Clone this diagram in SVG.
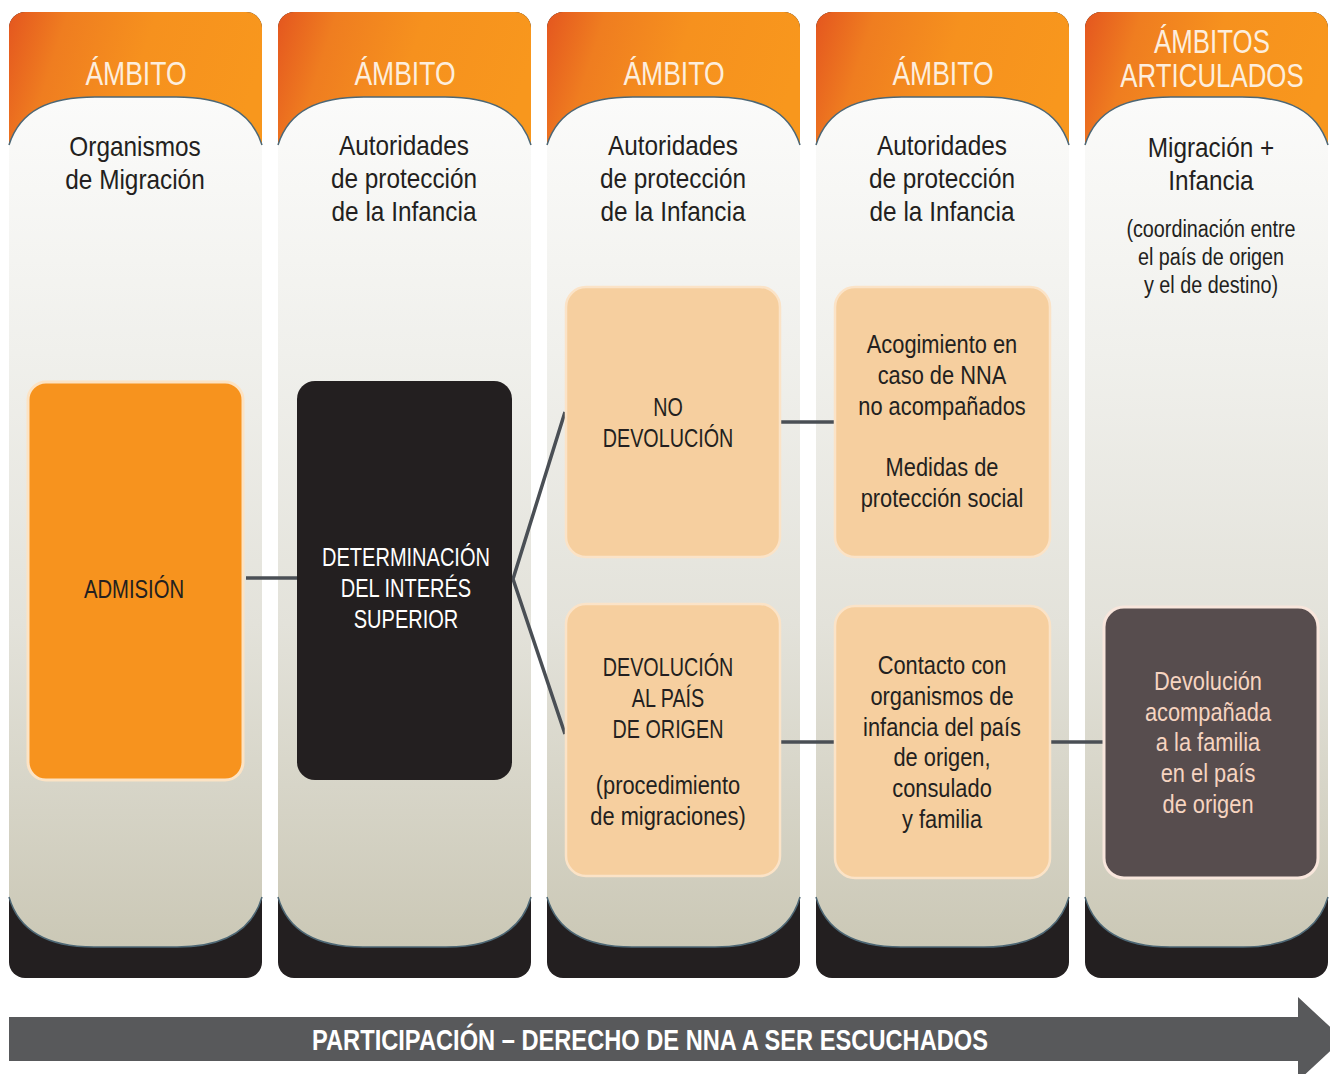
<svg xmlns="http://www.w3.org/2000/svg" width="1330" height="1074" viewBox="0 0 1330 1074">
<defs>
<linearGradient id="org" x1="0" y1="0" x2="1" y2="0.25">
<stop offset="0" stop-color="#e4561f"/>
<stop offset="0.22" stop-color="#ef7d20"/>
<stop offset="0.55" stop-color="#f6911e"/>
<stop offset="1" stop-color="#f8971d"/>
</linearGradient>
<linearGradient id="body" x1="0" y1="0" x2="0" y2="1">
<stop offset="0" stop-color="#fbfbfa"/>
<stop offset="0.3" stop-color="#f0f0ec"/>
<stop offset="0.62" stop-color="#e3e2da"/>
<stop offset="1" stop-color="#cbc8b6"/>
</linearGradient>
<style>
.outer{fill:#231f20}
.head{fill:url(#org)}
.body{fill:url(#body)}
.arc{fill:none;stroke:#4d6775;stroke-width:1.5}
.t{font-family:"Liberation Sans",Arial,sans-serif;text-anchor:middle}
.hd{font-size:34px;fill:#fdeedd}
.sub{font-size:28px;fill:#231f20}
.small{font-size:23px;fill:#231f20}
.bx{font-size:26px;fill:#231f20}
.peach{fill:#f6cf9f;stroke:#fbe3c7;stroke-width:2.5}
.conn{stroke:#4a4f55;stroke-width:3.5;fill:none}
</style>
</defs>
<rect width="1330" height="1074" fill="#ffffff"/>

<g id="columns">
<g id="col1">
<rect class="outer" x="9" y="12" width="253" height="966" rx="16"/>
<rect class="head" x="9" y="12" width="253" height="200" rx="16"/>
<path class="body" d="M9,145 C20,110 50,97 95,97 L176,97 C221,97 251,110 262,145 L262,897 C252,932 222,947 177,947 L94,947 C49,947 19,932 9,897 Z"/>
<path class="arc" d="M9,145 C20,110 50,97 95,97 L176,97 C221,97 251,110 262,145"/>
<path class="arc" d="M262,897 C252,932 222,947 177,947 L94,947 C49,947 19,932 9,897"/>
<text class="t hd" transform="translate(136,85) scale(0.78,1)">ÁMBITO</text>
<text class="t sub" transform="translate(135,156) scale(0.87,1)"><tspan x="0" y="0">Organismos</tspan><tspan x="0" y="33">de Migración</tspan></text>
</g>
<g id="col2">
<rect class="outer" x="278" y="12" width="253" height="966" rx="16"/>
<rect class="head" x="278" y="12" width="253" height="200" rx="16"/>
<path class="body" d="M278,145 C289,110 319,97 364,97 L445,97 C490,97 520,110 531,145 L531,897 C521,932 491,947 446,947 L363,947 C318,947 288,932 278,897 Z"/>
<path class="arc" d="M278,145 C289,110 319,97 364,97 L445,97 C490,97 520,110 531,145"/>
<path class="arc" d="M531,897 C521,932 491,947 446,947 L363,947 C318,947 288,932 278,897"/>
<text class="t hd" transform="translate(405,85) scale(0.78,1)">ÁMBITO</text>
<text class="t sub" transform="translate(404,155) scale(0.87,1)"><tspan x="0" y="0">Autoridades</tspan><tspan x="0" y="33">de protección</tspan><tspan x="0" y="66">de la Infancia</tspan></text>
</g>
<g id="col3">
<rect class="outer" x="547" y="12" width="253" height="966" rx="16"/>
<rect class="head" x="547" y="12" width="253" height="200" rx="16"/>
<path class="body" d="M547,145 C558,110 588,97 633,97 L714,97 C759,97 789,110 800,145 L800,897 C790,932 760,947 715,947 L632,947 C587,947 557,932 547,897 Z"/>
<path class="arc" d="M547,145 C558,110 588,97 633,97 L714,97 C759,97 789,110 800,145"/>
<path class="arc" d="M800,897 C790,932 760,947 715,947 L632,947 C587,947 557,932 547,897"/>
<text class="t hd" transform="translate(674,85) scale(0.78,1)">ÁMBITO</text>
<text class="t sub" transform="translate(673,155) scale(0.87,1)"><tspan x="0" y="0">Autoridades</tspan><tspan x="0" y="33">de protección</tspan><tspan x="0" y="66">de la Infancia</tspan></text>
</g>
<g id="col4">
<rect class="outer" x="816" y="12" width="253" height="966" rx="16"/>
<rect class="head" x="816" y="12" width="253" height="200" rx="16"/>
<path class="body" d="M816,145 C827,110 857,97 902,97 L983,97 C1028,97 1058,110 1069,145 L1069,897 C1059,932 1029,947 984,947 L901,947 C856,947 826,932 816,897 Z"/>
<path class="arc" d="M816,145 C827,110 857,97 902,97 L983,97 C1028,97 1058,110 1069,145"/>
<path class="arc" d="M1069,897 C1059,932 1029,947 984,947 L901,947 C856,947 826,932 816,897"/>
<text class="t hd" transform="translate(943,85) scale(0.78,1)">ÁMBITO</text>
<text class="t sub" transform="translate(942,155) scale(0.87,1)"><tspan x="0" y="0">Autoridades</tspan><tspan x="0" y="33">de protección</tspan><tspan x="0" y="66">de la Infancia</tspan></text>
</g>
<g id="col5">
<rect class="outer" x="1085" y="12" width="243" height="966" rx="16"/>
<rect class="head" x="1085" y="12" width="243" height="200" rx="16"/>
<path class="body" d="M1085,145 C1096,110 1126,97 1171,97 L1242,97 C1287,97 1317,110 1328,145 L1328,897 C1318,932 1288,947 1243,947 L1170,947 C1125,947 1095,932 1085,897 Z"/>
<path class="arc" d="M1085,145 C1096,110 1126,97 1171,97 L1242,97 C1287,97 1317,110 1328,145"/>
<path class="arc" d="M1328,897 C1318,932 1288,947 1243,947 L1170,947 C1125,947 1095,932 1085,897"/>
<text class="t hd" transform="translate(1212,53) scale(0.76,1)"><tspan x="0" y="0">ÁMBITOS</tspan><tspan x="0" y="34">ARTICULADOS</tspan></text>
<text class="t sub" transform="translate(1211,157) scale(0.87,1)"><tspan x="0" y="0">Migración +</tspan><tspan x="0" y="33">Infancia</tspan></text>
<text class="t small" transform="translate(1211,237) scale(0.86,1)"><tspan x="0" y="0">(coordinación entre</tspan><tspan x="0" y="28">el país de origen</tspan><tspan x="0" y="56">y el de destino)</tspan></text>
</g>
</g>

<g id="connectors">
<line class="conn" x1="246" y1="578" x2="297" y2="578"/>
<polyline class="conn" points="565,412 513,579 565,734"/>
<line class="conn" x1="781" y1="422" x2="834" y2="422"/>
<line class="conn" x1="781" y1="742" x2="834" y2="742"/>
<line class="conn" x1="1051" y1="742" x2="1103" y2="742"/>
</g>

<g id="admision">
<rect x="28" y="382" width="215" height="398" rx="18" fill="#f7931e" stroke="#fce3c4" stroke-width="3"/>
<text class="t bx" transform="translate(134,598) scale(0.78,1)">ADMISIÓN</text>
</g>
<g id="determinacion">
<rect x="297" y="381" width="215" height="399" rx="18" fill="#231f20"/>
<text class="t bx" style="fill:#ffffff" transform="translate(406,566) scale(0.77,1)"><tspan x="0" y="0">DETERMINACIÓN</tspan><tspan x="0" y="31">DEL INTERÉS</tspan><tspan x="0" y="62">SUPERIOR</tspan></text>
</g>
<g id="no-devolucion">
<rect class="peach" x="566" y="287" width="214" height="270" rx="20"/>
<text class="t bx" transform="translate(668,416) scale(0.76,1)"><tspan x="0" y="0">NO</tspan><tspan x="0" y="31">DEVOLUCIÓN</tspan></text>
</g>
<g id="devolucion-origen">
<rect class="peach" x="566" y="604" width="214" height="272" rx="20"/>
<text class="t bx" transform="translate(668,676) scale(0.76,1)"><tspan x="0" y="0">DEVOLUCIÓN</tspan><tspan x="0" y="31">AL PAÍS</tspan><tspan x="0" y="62">DE ORIGEN</tspan></text>
<text class="t bx" transform="translate(668,794) scale(0.84,1)"><tspan x="0" y="0">(procedimiento</tspan><tspan x="0" y="31">de migraciones)</tspan></text>
</g>
<g id="acogimiento">
<rect class="peach" x="835" y="287" width="215" height="270" rx="20"/>
<text class="t bx" transform="translate(942,353) scale(0.84,1)"><tspan x="0" y="0">Acogimiento en</tspan><tspan x="0" y="31">caso de NNA</tspan><tspan x="0" y="62">no acompañados</tspan><tspan x="0" y="123">Medidas de</tspan><tspan x="0" y="154">protección social</tspan></text>
</g>
<g id="contacto">
<rect class="peach" x="835" y="606" width="215" height="272" rx="20"/>
<text class="t bx" transform="translate(942,674) scale(0.84,1)"><tspan x="0" y="0">Contacto con</tspan><tspan x="0" y="31">organismos de</tspan><tspan x="0" y="62">infancia del país</tspan><tspan x="0" y="92">de origen,</tspan><tspan x="0" y="123">consulado</tspan><tspan x="0" y="154">y familia</tspan></text>
</g>
<g id="devolucion-acompanada">
<rect x="1104" y="607" width="214" height="271" rx="20" fill="#574d4e" stroke="#f8e6dc" stroke-width="3"/>
<text class="t bx" style="fill:#f6d4c0" transform="translate(1208,690) scale(0.84,1)"><tspan x="0" y="0">Devolución</tspan><tspan x="0" y="31">acompañada</tspan><tspan x="0" y="61">a la familia</tspan><tspan x="0" y="92">en el país</tspan><tspan x="0" y="123">de origen</tspan></text>
</g>

<g id="participacion">
<polygon points="9,1017 1298,1017 1298,997 1343,1039 1298,1081 1298,1061 9,1061" fill="#58595b"/>
<text x="650" y="1050" font-family="Liberation Sans, Arial, sans-serif" font-size="30" font-weight="bold" fill="#ffffff" text-anchor="middle" textLength="676" lengthAdjust="spacingAndGlyphs">PARTICIPACIÓN – DERECHO DE NNA A SER ESCUCHADOS</text>
</g>
</svg>
